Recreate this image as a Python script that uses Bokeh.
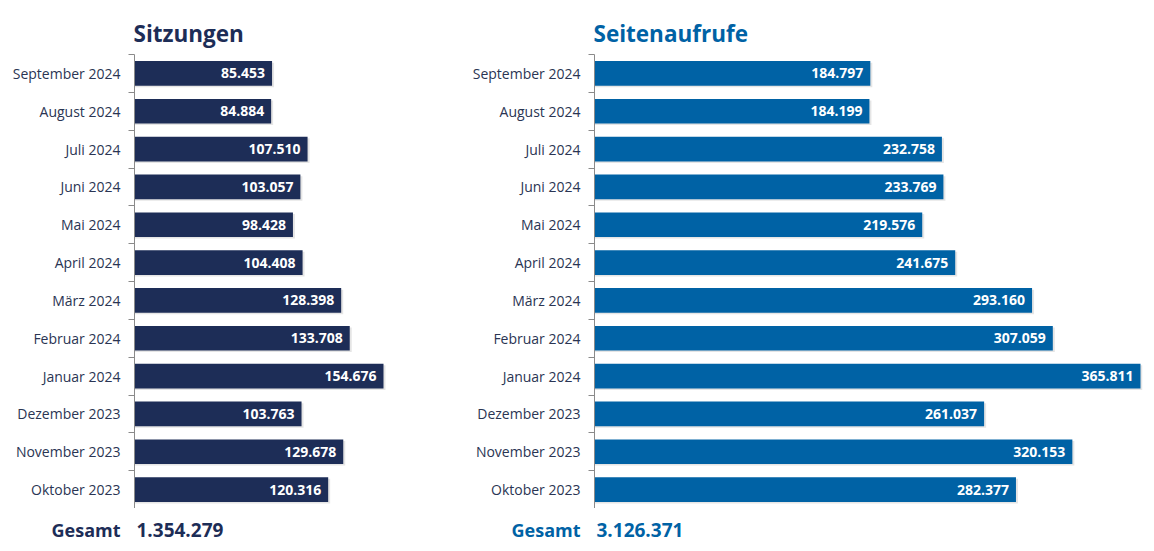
from bokeh.plotting import figure
from bokeh.layouts import row, column
from bokeh.models import Range1d, FixedTicker, LinearAxis, ColumnDataSource
from bokeh.core.properties import value
from bokeh.embed import file_html
from bokeh.resources import INLINE

# ---- data (chronological, bottom to top) ----
months = ["Oktober 2023", "November 2023", "Dezember 2023", "Januar 2024", "Februar 2024",
          "März 2024", "April 2024", "Mai 2024", "Juni 2024", "Juli 2024",
          "August 2024", "September 2024"]
sessions = [120316, 129678, 103763, 154676, 133708, 128398, 104408, 98428, 103057, 107510, 84884, 85453]
pageviews = [282377, 320153, 261037, 365811, 307059, 293160, 241675, 219576, 233769, 232758, 184199, 184797]
titles = ["Sitzungen", "Seitenaufrufe"]
total_label = "Gesamt"

FONT = "Open Sans"
LABEL_COLOR = "#2a3553"


def de(n):
    return f"{n:,}".replace(",", ".")


def style(p):
    p.xaxis.visible = False
    p.grid.visible = False
    p.outline_line_color = None
    p.background_fill_color = None
    p.border_fill_color = None


def make(title, vals, color, width, border_left, border_right, x_end):
    n = len(vals)
    frame_w = width - border_left - border_right
    px = x_end / frame_w  # data units per pixel

    p = figure(width=width, height=508, output_backend="svg", toolbar_location=None,
               x_range=Range1d(0, x_end), y_range=Range1d(-0.5, n - 0.5),
               min_border_left=border_left, min_border_right=border_right,
               min_border_top=54, min_border_bottom=0, y_axis_location=None)
    style(p)

    p.title.text = title
    p.title.text_font = FONT
    p.title.text_font_size = "22.5px"
    p.title.text_font_style = "bold"
    p.title.text_color = color
    p.title.align = "left"
    p.title.offset = -1
    p.title.standoff = 12

    idx = list(range(n))
    ax = LinearAxis(ticker=FixedTicker(ticks=idx, minor_ticks=[i - 0.5 for i in range(n + 1)]),
                    major_label_overrides={i: m for i, m in enumerate(months)})
    ax.major_tick_out = 0
    ax.major_tick_in = 0
    ax.minor_tick_out = 6
    ax.minor_tick_in = 0
    ax.minor_tick_line_color = "#8a8a8a"
    ax.axis_line_color = "#8a8a8a"
    ax.major_label_text_font = FONT
    ax.major_label_text_font_size = "14px"
    ax.major_label_text_color = LABEL_COLOR
    ax.major_label_standoff = 8
    p.add_layout(ax, "left")

    src = ColumnDataSource(dict(y=idx, ys=[i - 0.04 for i in idx], v=vals,
                                vs=[v + 2 * px for v in vals], t=[de(v) for v in vals]))
    # subtle drop shadow
    p.hbar(y="ys", right="vs", height=0.65, source=src, fill_color="#000000",
           fill_alpha=0.10, line_color=None)
    p.hbar(y="y", right="v", height=0.65, source=src, fill_color=color, line_color=None)
    p.text(x="v", y="y", text="t", source=src, x_offset=-7, text_align="right",
           text_baseline="middle", text_color="white", text_font=value(FONT),
           text_font_size="14px", text_font_style="bold")

    # footer with total
    f = figure(width=width, height=42, output_backend="svg", toolbar_location=None,
               x_range=Range1d(0, x_end), y_range=Range1d(0, 1),
               min_border_left=border_left, min_border_right=border_right,
               min_border_top=0, min_border_bottom=0, y_axis_location=None)
    style(f)
    fax = LinearAxis(ticker=FixedTicker(ticks=[0.5]), major_label_overrides={0.5: total_label})
    fax.axis_line_color = None
    fax.major_tick_line_color = None
    fax.minor_tick_line_color = None
    fax.major_label_text_font = FONT
    fax.major_label_text_font_size = "18px"
    fax.major_label_text_font_style = "bold"
    fax.major_label_text_color = color
    fax.major_label_standoff = 8
    f.add_layout(fax, "left")
    f.text(x=[0], y=[0.5], text=[de(sum(vals))], x_offset=2, text_align="left",
           text_baseline="middle", text_color=color, text_font=value(FONT),
           text_font_size="19px", text_font_style="bold")
    return column(p, f, spacing=0)


c1 = make(titles[0], sessions, "#1d2d57", 452, 134, 10, 191330)
c2 = make(titles[1], pageviews, "#0062a5", 694, 142, 4, 367150)

layout = row(c1, c2, spacing=0)
open("out.html", "w").write(file_html(layout, INLINE))
